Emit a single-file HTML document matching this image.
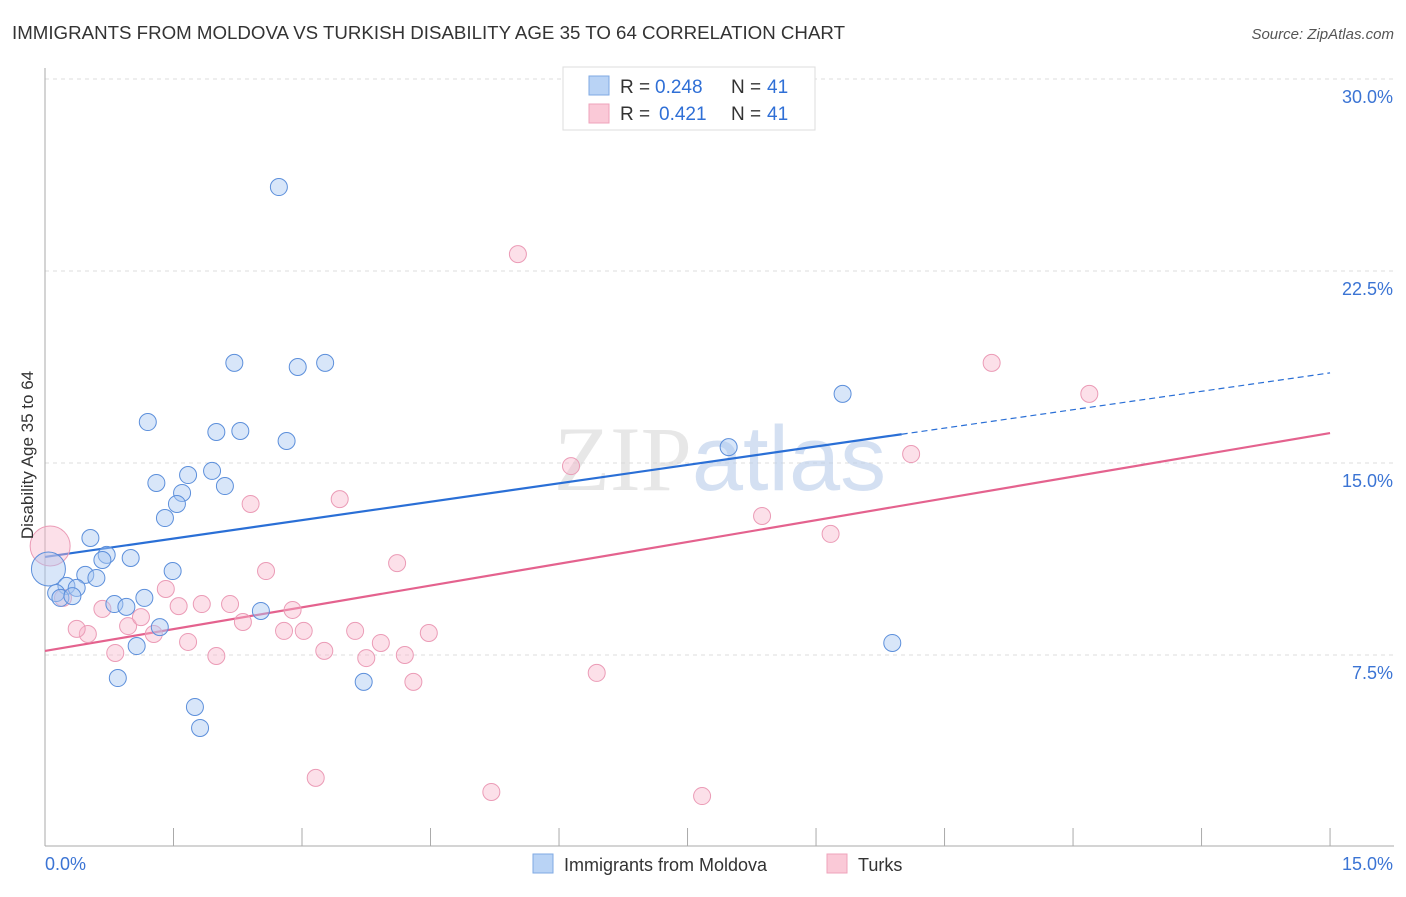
<!DOCTYPE html>
<html><head><meta charset="utf-8"><style>
body{margin:0;background:#fff;font-family:"Liberation Sans",sans-serif}
</style></head><body>
<svg width="1406" height="892" viewBox="0 0 1406 892" xmlns="http://www.w3.org/2000/svg">
<text x="12" y="39" font-size="18" fill="#333" textLength="833" lengthAdjust="spacingAndGlyphs">IMMIGRANTS FROM MOLDOVA VS TURKISH DISABILITY AGE 35 TO 64 CORRELATION CHART</text>
<text x="1394" y="39" font-size="15" fill="#555" font-style="italic" text-anchor="end">Source: ZipAtlas.com</text>
<g id="grid"></g>
<g id="axes"></g>
<text x="720" y="490" font-size="92" text-anchor="middle" fill="#d8d8d8" opacity="0.6" font-family="Liberation Serif, serif">ZIP<tspan fill="#b9cdea" font-family="Liberation Sans, sans-serif">atlas</tspan></text>
<g id="trend"></g>
<g id="points"></g>
<text transform="translate(33,455) rotate(-90)" font-size="17" fill="#333" text-anchor="middle">Disability Age 35 to 64</text>
<g>
<rect x="563" y="67" width="252" height="63" fill="#fff" stroke="#ddd"/>
<rect x="589" y="76" width="20" height="19" fill="#b9d3f5" stroke="#7fa9e3"/>
<rect x="589" y="104" width="20" height="19" fill="#fac9d7" stroke="#efa3bb"/>
<text x="620" y="93" font-size="19" fill="#333">R =</text>
<text x="655" y="93" font-size="19" fill="#2f6fd6">0.248</text>
<text x="731" y="93" font-size="19" fill="#333">N =</text>
<text x="767" y="93" font-size="19" fill="#2f6fd6">41</text>
<text x="620" y="120" font-size="19" fill="#333">R =</text>
<text x="659" y="120" font-size="19" fill="#2f6fd6">0.421</text>
<text x="731" y="120" font-size="19" fill="#333">N =</text>
<text x="767" y="120" font-size="19" fill="#2f6fd6">41</text>
</g>
<g>
<rect x="533" y="854" width="20" height="19" fill="#b9d3f5" stroke="#7fa9e3"/>
<text x="564" y="871" font-size="18" fill="#333">Immigrants from Moldova</text>
<rect x="827" y="854" width="20" height="19" fill="#fac9d7" stroke="#efa3bb"/>
<text x="858" y="871" font-size="18" fill="#333">Turks</text>
</g>
</svg>
<script>
const blueX=[2.73,2.21,2.95,3.27,1.20,2.00,2.28,2.82,7.98,9.31,1.67,1.95,1.30,1.60,2.10,1.54,1.40,0.53,0.72,0.67,1.00,1.49,0.04,0.47,0.60,0.25,0.37,0.13,0.18,0.32,0.81,0.95,1.16,1.34,1.07,2.52,0.85,3.72,1.75,1.81,9.89];
const blueY=[25.78,18.91,18.75,18.91,16.60,16.21,16.25,15.86,15.62,17.70,14.53,14.69,14.22,13.83,14.10,13.40,12.85,12.07,11.41,11.21,11.29,10.78,10.86,10.63,10.51,10.20,10.12,9.92,9.73,9.80,9.49,9.38,9.73,8.59,7.85,9.22,6.60,6.45,5.47,4.65,7.97];
const pinkX=[5.52,11.05,12.19,10.11,6.14,8.37,9.17,2.40,3.44,2.58,4.11,1.41,0.06,0.21,0.67,0.97,1.12,1.56,1.83,2.16,2.31,2.89,2.79,3.02,3.62,1.27,0.50,0.37,1.67,0.82,2.00,3.26,3.75,3.92,4.20,4.48,4.30,6.44,3.16,5.21,7.67];
const pinkY=[23.16,18.91,17.70,15.35,14.88,12.93,12.23,13.40,13.59,10.78,11.09,10.08,11.76,9.73,9.30,8.63,8.98,9.41,9.49,9.49,8.79,9.26,8.44,8.44,8.44,8.32,8.32,8.52,8.01,7.58,7.46,7.66,7.38,7.97,7.50,8.36,6.45,6.80,2.70,2.15,1.99];
const blueTrend=[11.33,18.52];
const pinkTrend=[7.66,16.17];
const yTicks=[7.5,15.0,22.5,30.0];
const xTickLabels=["0.0%","15.0%"];
const NS="http://www.w3.org/2000/svg";
const X=v=>45+v*85.67, Y=v=>847-v*25.6;
function mk(tag,attrs,parent){const e=document.createElementNS(NS,tag);for(const k in attrs)e.setAttribute(k,attrs[k]);document.getElementById(parent).appendChild(e);return e;}
yTicks.forEach(t=>{
 const l=mk('line',{x1:45,x2:1394,y1:Y(t),y2:Y(t),stroke:'#ddd','stroke-dasharray':'4,4'},'grid');
 
 
 const tx=mk('text',{x:1393,y:Y(t)+24,'font-size':18,fill:'#3b74d4','text-anchor':'end'},'grid');
 tx.textContent=t.toFixed(1)+'%';
 
 
});
const ya=mk('line',{x1:45,x2:45,y1:68,y2:846,stroke:'#aaa'},'axes');


const xa=mk('line',{x1:45,x2:1394,y1:846,y2:846,stroke:'#aaa'},'axes');


for(let i=0;i<=10;i++){const t=mk('line',{x1:X(i*1.5),x2:X(i*1.5),y1:828,y2:846,stroke:'#aaa'},'axes');
 
 }
const xl0=mk('text',{x:45,y:870,'font-size':18,fill:'#3b74d4'},'axes');xl0.textContent=xTickLabels[0];


const xl1=mk('text',{x:1393,y:870,'font-size':18,fill:'#3b74d4','text-anchor':'end'},'axes');xl1.textContent=xTickLabels[1];


const bAt=x=>blueTrend[0]+(blueTrend[1]-blueTrend[0])*x/15;
const pAt=x=>pinkTrend[0]+(pinkTrend[1]-pinkTrend[0])*x/15;
const bl=mk('line',{x1:X(0),y1:Y(bAt(0)),x2:X(10),y2:Y(bAt(10)),stroke:'#2a6fd6','stroke-width':2.2},'trend');


const bd=mk('line',{x1:X(10),y1:Y(bAt(10)),x2:X(15),y2:Y(bAt(15)),stroke:'#2a6fd6','stroke-width':1.2,'stroke-dasharray':'6,4'},'trend');


const pl=mk('line',{x1:X(0),y1:Y(pAt(0)),x2:X(15),y2:Y(pAt(15)),stroke:'#e4628e','stroke-width':2.2},'trend');


pinkX.forEach((x,i)=>{const c=mk('circle',{cx:X(x),cy:Y(pinkY[i]),r:i===12?20:8.5,fill:'rgba(248,182,202,0.42)',stroke:'#eb9bb6','stroke-width':1},'points');
 
 });
blueX.forEach((x,i)=>{const c=mk('circle',{cx:X(x),cy:Y(blueY[i]),r:i===22?17:8.5,fill:'rgba(168,200,242,0.45)',stroke:'#5c8fdb','stroke-width':1},'points');
 
 });
</script>
</body></html>
